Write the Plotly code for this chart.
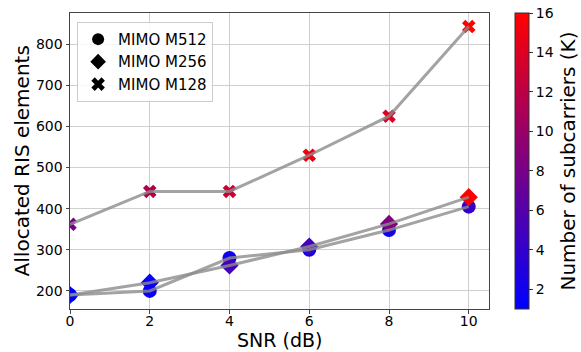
import plotly.graph_objects as go

snr = [0, 2, 4, 6, 8, 10]
m512_vals = [190, 200, 280, 300, 348, 405]
m256_vals = [190, 220, 262, 308, 363, 428]
m128_vals = [362, 442, 442, 530, 625, 843]
m512_k = [1, 1.5, 2, 2, 2, 4]
m256_k = [1, 1.5, 5, 5, 8.5, 16]
m128_k = [8, 11.5, 13, 15, 14, 16]
series_names = ["MIMO M512", "MIMO M256", "MIMO M128"]
symbols = ["circle", "diamond", "x"]
sizes = [14, 14, 12]
x_title = "SNR (dB)"
y_title = "Allocated RIS elements"
cb_title = "Number of subcarriers (K)"

series = [m512_vals, m256_vals, m128_vals]
kvals = [m512_k, m256_k, m128_k]

FONT = "DejaVu Sans"
W, H = 581, 352
ML, MR, MT, MB = 70, 0, 13, 43
PW = W - ML - MR
AX_RIGHT_PX = 492
CB_LEFT_PX = 519

fig = go.Figure()

# markers (colored by K)
for vals, ks, sym, sz in zip(series, kvals, symbols, sizes):
    fig.add_trace(go.Scatter(
        x=snr, y=vals, mode="markers", showlegend=False,
        marker=dict(symbol=sym, size=sz, color=ks, coloraxis="coloraxis",
                    line=dict(width=0)),
    ))

# grey connecting lines on top
for vals in series:
    fig.add_trace(go.Scatter(
        x=snr, y=vals, mode="lines", showlegend=False,
        line=dict(color="rgba(140,140,140,0.8)", width=3),
    ))

# legend entries (black markers)
for name, sym, sz in zip(series_names, symbols, sizes):
    fig.add_trace(go.Scatter(
        x=[None], y=[None], mode="markers", name=name,
        marker=dict(symbol=sym, size=sz, color="black", line=dict(width=0)),
    ))

dom_r = (AX_RIGHT_PX - ML) / PW
fig.update_layout(
    width=W, height=H,
    margin=dict(l=ML, r=MR, t=MT, b=MB),
    paper_bgcolor="white", plot_bgcolor="white",
    font=dict(family=FONT, color="black", size=14),
    coloraxis=dict(
        cmin=1, cmax=16,
        colorscale=[[0, "rgb(0,0,255)"], [1, "rgb(255,0,0)"]],
        colorbar=dict(
            x=(CB_LEFT_PX - ML) / PW, xanchor="left", y=0.5, yanchor="middle",
            xpad=0, ypad=0,
            len=1, lenmode="fraction", thickness=14,
            outlinewidth=1, outlinecolor="#333",
            ticks="outside", ticklen=4, tickcolor="#333",
            tickvals=[2, 4, 6, 8, 10, 12, 14, 16],
            tickfont=dict(family=FONT, size=14),
            title=dict(text=cb_title, side="right",
                       font=dict(family=FONT, size=20)),
        ),
    ),
    legend=dict(
        x=0.017 * dom_r, y=0.97, xanchor="left", yanchor="top",
        bgcolor="rgba(255,255,255,0.85)", bordercolor="#cccccc", borderwidth=1,
        font=dict(family=FONT, size=15),
        itemsizing="constant",
    ),
    annotations=[
        dict(text=x_title, xref="paper", yref="paper",
             x=(281 - ML) / PW, y=0,
             xanchor="center", yanchor="bottom", yshift=-(352 - 309),
             borderpad=0, showarrow=False, font=dict(family=FONT, size=19)),
        dict(text=y_title, xref="paper", yref="paper",
             x=(22 - ML) / PW, y=0.5, xanchor="center", yanchor="middle",
             borderpad=0, textangle=-90, showarrow=False,
             font=dict(family=FONT, size=20)),
    ],
)

fig.update_xaxes(
    domain=[0, dom_r],
    range=[0, 10.5], tickvals=[0, 2, 4, 6, 8, 10],
    showgrid=True, gridcolor="#cfcfcf", gridwidth=1,
    showline=True, mirror=True, linecolor="#444", linewidth=1,
    ticks="outside", ticklen=3.5, tickcolor="#444",
    ticklabelstandoff=-4,
    tickfont=dict(size=14), zeroline=False,
)
fig.update_yaxes(
    range=[156, 876], tickvals=[200, 300, 400, 500, 600, 700, 800],
    showgrid=True, gridcolor="#cfcfcf", gridwidth=1,
    showline=True, mirror=True, linecolor="#444", linewidth=1,
    ticks="outside", ticklen=3.5, tickcolor="#444",
    tickfont=dict(size=14), zeroline=False,
)

fig.write_html("out.html")
